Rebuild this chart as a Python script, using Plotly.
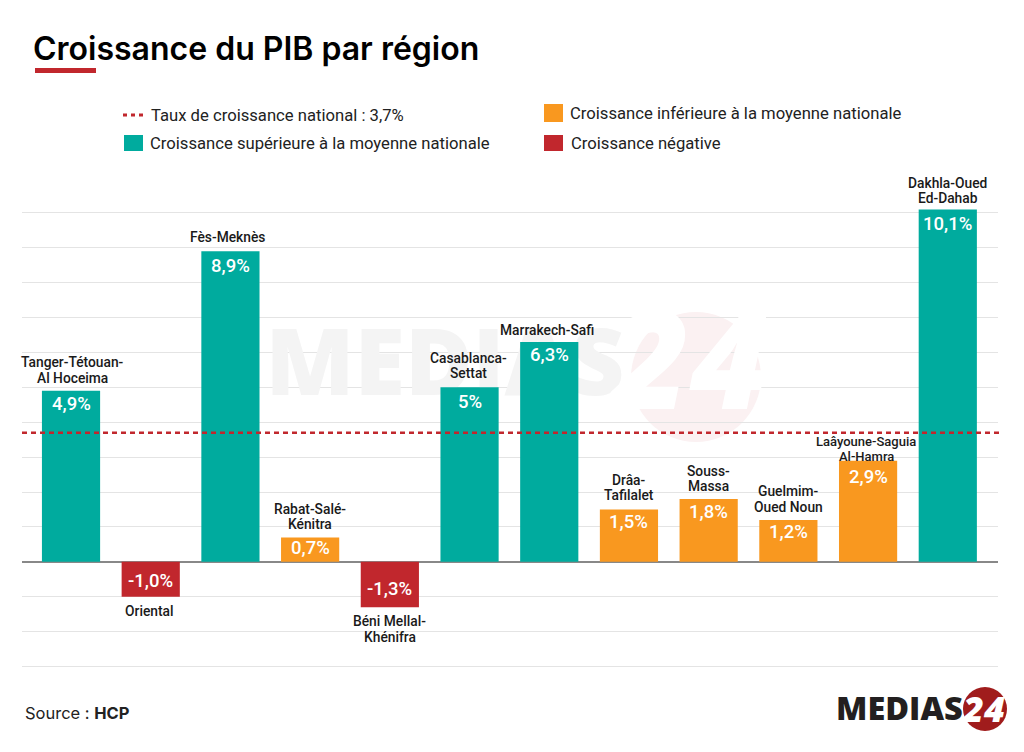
import plotly.graph_objects as go

regions = ["Tanger-Tétouan-<br>Al Hoceima", "Oriental", "Fès-Meknès", "Rabat-Salé-<br>Kénitra",
           "Béni Mellal-<br>Khénifra", "Casablanca-<br>Settat", "Marrakech-Safi", "Drâa-<br>Tafilalet",
           "Souss-<br>Massa", "Guelmim-<br>Oued Noun", "Laâyoune-Saguia<br>Al-Hamra", "Dakhla-Oued<br>Ed-Dahab"]
growth = [4.9, -1.0, 8.9, 0.7, -1.3, 5.0, 6.3, 1.5, 1.8, 1.2, 2.9, 10.1]
value_labels = ["4,9%", "-1,0%", "8,9%", "0,7%", "-1,3%", "5%", "6,3%", "1,5%", "1,8%", "1,2%", "2,9%", "10,1%"]
national = 3.7
y_ticks = list(range(-3, 11))

GREEN, ORANGE, RED = "#00AB9E", "#F9981F", "#C1272D"
W, H = 1024, 752
L, R, T, B = 22, 998, 178, 670
ROBOTO = "Roboto, sans-serif"
HEAD = "Inter, sans-serif"
WIDE = "Open Sans, sans-serif"


def px(x):
    return (x - L) / (R - L)


def py(y):
    return (B - y) / (B - T)


def colour(v):
    if v < 0:
        return RED
    return GREEN if v > national else ORANGE


def text(x, y, s, size, color="#222222", font=ROBOTO, anchor="left", weight=400):
    return dict(x=px(x), y=py(y), xref="paper", yref="paper", text=s, showarrow=False, xanchor=anchor,
                yanchor="middle", font=dict(family=font, size=size, color=color, weight=weight))


def rect(x0, y0, x1, y1, color, layer="above"):
    return dict(type="rect", xref="paper", yref="paper", x0=px(x0), x1=px(x1), y0=py(y0), y1=py(y1),
                fillcolor=color, line_width=0, layer=layer)


def circle(x, y, r, color, layer="above"):
    return dict(type="circle", xref="paper", yref="paper", x0=px(x - r), x1=px(x + r), y0=py(y + r), y1=py(y - r),
                fillcolor=color, line_width=0, layer=layer)


fig = go.Figure()

# Faint watermark on the base axes, beneath the chart's overlaying axes
fig.add_trace(go.Scatter(x=[445], y=[372], mode="text", text=["MEDIAS"], hoverinfo="skip", showlegend=False,
                         textfont=dict(family=WIDE, size=92, color="#F4F4F4", weight=800)))
fig.add_trace(go.Scatter(x=[690], y=[375], mode="text", text=["<i>24</i>"], hoverinfo="skip", showlegend=False,
                         textfont=dict(family=WIDE, size=136, color="#FFFFFF", weight=800)))

fig.add_trace(go.Bar(x=regions, y=growth, xaxis="x2", yaxis="y2", width=0.73, showlegend=False,
                     marker=dict(color=[colour(v) for v in growth], line_width=0), cliponaxis=False))

annotations = []
value_off = [13, 16, 15, 11, 18, 15, 13, 13, 13, 12, 16, 15]
name_off = [13, 14, 14, 13, 14, 14, 12, 14, 13, 13, 4, 11]
name_dx = [1.5, -1.5, -2.5, 0, 0, -1.5, -2.5, 0, 0, 0, -2, 0]
name_size = [13.8] * 10 + [13, 13.8]
LINE = 15.5
for i, (name, v, lab) in enumerate(zip(regions, growth, value_labels)):
    sign = 1 if v >= 0 else -1
    annotations.append(dict(
        x=i, y=v, xref="x2", yref="y2", text=lab, showarrow=False, xanchor="center", yanchor="middle",
        yshift=-sign * value_off[i], font=dict(family=ROBOTO, size=18.5, color="white", weight=500)))
    lines = name.split("<br>")
    for k, line in enumerate(lines):
        if v >= 0:
            shift = name_off[i] + (len(lines) - 1 - k) * LINE
        else:
            shift = -(name_off[i] + k * LINE)
        annotations.append(dict(
            x=i, y=v, xref="x2", yref="y2", text=line, showarrow=False, xanchor="center", yanchor="middle",
            yshift=shift, xshift=name_dx[i],
            font=dict(family=ROBOTO, size=name_size[i], color="#1a1a1a", weight=500)))

annotations += [
    text(31, 48, "Croissance du PIB par région", 32, "#000000", HEAD, weight=600),
    text(149, 115, "Taux de croissance national : 3,7%", 16.65),
    text(148, 143, "Croissance supérieure à la moyenne nationale", 16.65),
    text(568, 114, "Croissance inférieure à la moyenne nationale", 16.65),
    text(569, 143, "Croissance négative", 16.65),
    text(23, 713, "Source : <b>HCP</b>", 16.5, "#222222", HEAD),
    text(834, 707, "MEDIAS", 32.5, "#231F20", WIDE, weight=800),
    text(983, 708, "<i>24</i>", 36, "#FFFFFF", WIDE, "center", 800),
]

shapes = [
    circle(696, 377, 65, "#FBF1F2", "below"),
    rect(35, 68, 96, 73, RED),
    rect(124, 135, 143, 151, GREEN),
    rect(544, 104, 563, 122, ORANGE),
    rect(544, 135, 563, 151, RED),
    dict(type="line", xref="paper", yref="paper", x0=px(123), x1=px(143), y0=py(115), y1=py(115),
         line=dict(color=RED, width=3, dash="4px,4px")),
    dict(type="line", xref="paper", yref="y2", x0=0, x1=px(1000), y0=national, y1=national,
         line=dict(color=RED, width=2.5, dash="5px,4px")),
    circle(985, 709, 22, "#A01C1C"),
]

fig.update_layout(
    width=W, height=H, paper_bgcolor="white", plot_bgcolor="white", showlegend=False,
    margin=dict(l=L, r=W - R, t=T, b=H - B, pad=0),
    shapes=shapes, annotations=annotations, bargap=0.27,
    xaxis=dict(range=[L, R], visible=False, fixedrange=True),
    yaxis=dict(range=[B, T], visible=False, fixedrange=True),
    xaxis2=dict(overlaying="x", range=[-0.615, 11.63], showticklabels=False, ticks="", showgrid=False,
                zeroline=False, showline=False, fixedrange=True, type="category",
                categoryorder="array", categoryarray=regions),
    yaxis2=dict(overlaying="y", range=[-3.1, 11], tickvals=y_ticks, showticklabels=False, ticks="",
                gridcolor="#E4E4E4", gridwidth=1, zeroline=True, zerolinecolor="#888888", zerolinewidth=2,
                showline=False, fixedrange=True),
)

fig.write_html("out.html", config=dict(displayModeBar=False),
               post_script="document.body.style.margin='0';document.body.style.overflow='hidden';")
